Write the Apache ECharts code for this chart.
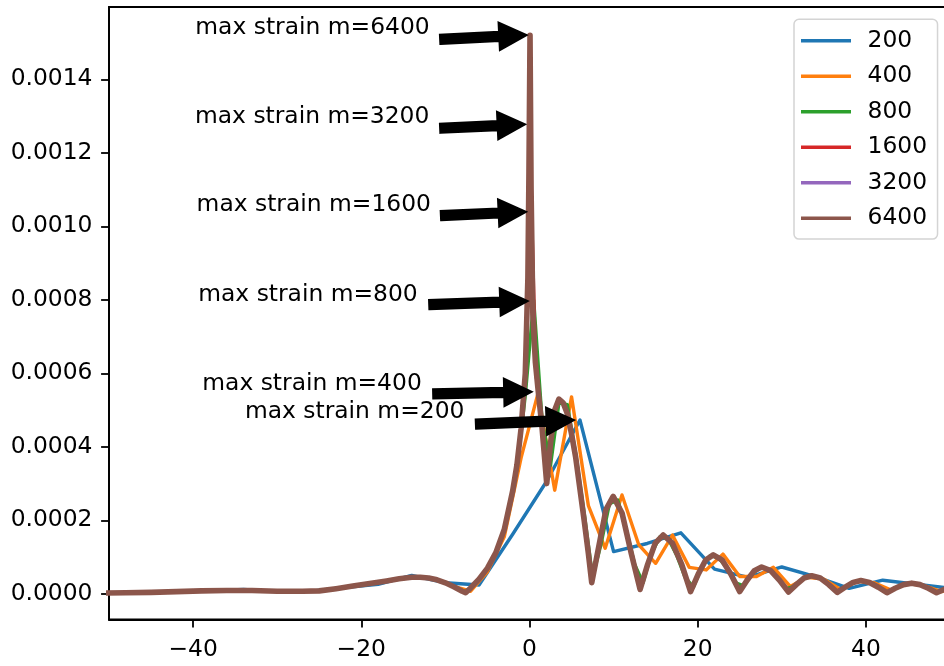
<!DOCTYPE html>
<html><head><meta charset="utf-8">
<script src="https://cdn.jsdelivr.net/npm/echarts@6/dist/echarts.min.js"></script>
<style>html,body{margin:0;padding:0;background:#fff}#c{width:944px;height:666px}</style>
</head><body><div id="c"></div>
<script>
// values are in units of 1e-4 (strain)
const SCALE = 1e-4;
const seriesNames = ['200', '400', '800', '1600', '3200', '6400'];
const seriesColors = ['#1f77b4', '#ff7f0e', '#2ca02c', '#d62728', '#9467bd', '#8c564b'];
const xTicks = [-40, -20, 0, 20, 40];
const yTicks = [0, 0.0002, 0.0004, 0.0006, 0.0008, 0.0010, 0.0012, 0.0014];

const s200 = [[-50,0.02],[-46,0.03],[-42,0.06],[-38,0.08],[-34,0.12],[-30,0.06],[-26,0.07],[-22,0.17],[-18,0.26],[-14,0.5],[-10,0.3],[-6,0.24],[-2,1.62],[2,3.05],[6,4.73],[10,1.15],[14,1.37],[18,1.66],[22,0.67],[26,0.45],[30,0.73],[34,0.47],[38,0.15],[42,0.37],[46,0.26],[50,0.15]];

const s400 = [[-51,0.02],[-49,0.02],[-47,0.03],[-45,0.04],[-43,0.05],[-41,0.07],[-39,0.08],[-37,0.09],[-35,0.09],[-33,0.09],[-31,0.08],[-29,0.07],[-27,0.07],[-25,0.08],[-23,0.14],[-21,0.21],[-19,0.28],[-17,0.35],[-15,0.42],[-13,0.46],[-11,0.38],[-9,0.2],[-7,0.07],[-5,0.6],[-3,1.55],[-1,3.7],[1,5.45],[3,2.82],[5,5.36],[7,2.4],[9,1.24],[11,2.69],[13,1.33],[15,0.83],[17,1.6],[19,0.72],[21,0.65],[23,1.08],[25,0.47],[27,0.47],[29,0.72],[31,0.2],[33,0.45],[35,0.4],[37,0.12],[39,0.34],[41,0.3],[43,0.1],[45,0.28],[47,0.22],[49,0.06],[51,0.2]];

const s800 = [[-50.5,0.02],[-45.5,0.04],[-40.5,0.07],[-35.5,0.09],[-30.5,0.07],[-25.5,0.08],[-22.5,0.16],[-20.5,0.23],[-18.5,0.3],[-16.5,0.37],[-14.5,0.43],[-13.5,0.45],[-12.5,0.44],[-11.5,0.41],[-10.5,0.34],[-9.5,0.25],[-8.5,0.13],[-7.5,0.05],[-6.5,0.26],[-5.5,0.55],[-4.5,0.88],[-3.5,1.4],[-2.5,2.2],[-1.5,3.4],[-0.5,5.4],[0.5,7.99],[1.5,4.7],[2.5,3.5],[3.5,5.2],[4.5,5.15],[5.5,3.8],[6.5,2.2],[7.5,0.45],[8.5,1.35],[9.5,2.45],[10.5,2.55],[11.5,1.75],[12.5,0.8],[13.5,0.3],[14.5,1.1],[15.5,1.55],[16.5,1.5],[17.5,1.05],[18.5,0.45],[19.5,0.18],[20.5,0.75],[21.5,1.04],[22.5,0.98],[23.5,0.7],[24.5,0.3],[25.5,0.22],[26.5,0.55],[27.5,0.72],[28.5,0.66],[29.5,0.45],[30.5,0.14],[31.5,0.2],[32.5,0.42],[33.5,0.49],[34.5,0.44],[35.5,0.28],[36.5,0.06],[37.5,0.17],[38.5,0.31],[39.5,0.36],[40.5,0.31],[41.5,0.19],[42.5,0.04],[43.5,0.15],[44.5,0.25],[45.5,0.29],[46.5,0.25],[47.5,0.15],[48.5,0.04],[49.5,0.13],[50.5,0.2]];

// fine-resolution runs (1600, 3200, 6400) coincide away from the spike
const fineLeft = [[-50.5,0.02],[-48,0.03],[-45,0.04],[-42,0.06],[-39,0.08],[-36,0.09],[-33,0.09],[-30,0.07],[-27,0.07],[-25,0.08],[-23,0.14],[-21,0.21],[-19,0.28],[-17,0.35],[-15.5,0.41],[-14,0.45],[-13,0.45],[-12,0.43],[-11,0.38],[-10,0.3],[-9,0.19],[-8,0.07],[-7.6,0.03],[-7,0.16],[-6,0.4],[-5,0.7],[-4,1.12],[-3,1.75],[-2,2.8],[-1.5,3.5],[-1,4.5],[-0.5,6.0]];
const fineRight = [[1,5.6],[1.5,4.5],[2.05,3.0],[2.5,4.1],[3,5.0],[3.5,5.3],[4,5.2],[4.5,4.9],[5,4.35],[5.5,3.7],[6,2.85],[6.5,2.0],[7,1.1],[7.4,0.3],[8.25,1.3],[9.1,2.3],[9.95,2.65],[11,2.2],[12.1,1.1],[13.15,0.12],[14.05,0.8],[14.95,1.38],[15.9,1.6],[17,1.38],[18.1,0.8],[19.15,0.06],[20.05,0.53],[20.95,0.92],[21.85,1.06],[22.9,0.92],[23.95,0.53],[25,0.06],[25.87,0.37],[26.73,0.63],[27.6,0.73],[28.67,0.63],[29.73,0.37],[30.8,0.05],[31.72,0.25],[32.63,0.43],[33.55,0.49],[34.57,0.43],[35.58,0.25],[36.6,0.04],[37.53,0.18],[38.47,0.31],[39.4,0.36],[40.43,0.31],[41.47,0.18],[42.5,0.03],[43.48,0.15],[44.47,0.25],[45.45,0.29],[46.43,0.25],[47.42,0.15],[48.4,0.03],[49.4,0.13],[50.4,0.2]];
const peak1600 = [[-0.25,7.8],[0.25,10.4],[0.75,6.0]];
const peak3200 = [[-0.125,9.5],[0.125,12.78],[0.375,8.3],[0.7,6.3]];
const peak6400 = [[-0.19,8.6],[-0.0625,11.5],[0.0625,15.2],[0.1875,11.0],[0.4,7.6],[0.7,6.3]];

// annotations
const annoLabels = ['max strain m=6400','max strain m=3200','max strain m=1600','max strain m=800','max strain m=400','max strain m=200'];
const annoText = [[-25.80,15.39],[-25.84,12.99],[-25.65,10.58],[-26.34,8.13],[-25.86,5.71],[-20.79,4.96]];
const annoTail = [[-10.73,15.09],[-10.73,12.67],[-10.64,10.29],[-12.03,7.87],[-11.56,5.44],[-6.48,4.62]];
const annoTip = [[-0.14,15.21],[-0.33,12.78],[-0.21,10.40],[-0.02,7.97],[0.45,5.50],[5.49,4.73]];

const lineData = [
  s200, s400, s800,
  fineLeft.concat(peak1600, fineRight),
  fineLeft.concat(peak3200, fineRight),
  fineLeft.concat(peak6400, fineRight)
];
const lineWidths = [3.4, 3.4, 3.4, 3.4, 3.4, 5.6];
const FONT = 'DejaVu Sans';
const FS = 23.4;

const chart = echarts.init(document.getElementById('c'), null, {renderer: 'canvas'});
const series = lineData.map((d, i) => ({
  name: seriesNames[i], type: 'line', data: d.map(p => [p[0], p[1] * SCALE]),
  showSymbol: false, symbol: 'none', smooth: false, animation: false, silent: true,
  color: seriesColors[i],
  lineStyle: {color: seriesColors[i], width: lineWidths[i], join: 'round', cap: 'butt'},
  emphasis: {disabled: true}, z: 2 + i
}));
series.push({
  name: 'annotations', type: 'custom', coordinateSystem: 'cartesian2d', clip: false, silent: true,
  animation: false, z: 20,
  data: annoTip.map(p => [p[0], p[1] * SCALE]),
  renderItem: function (params, api) {
    const i = params.dataIndex;
    const t = api.coord([annoText[i][0], annoText[i][1] * SCALE]);
    const a = api.coord([annoTail[i][0], annoTail[i][1] * SCALE]);
    const b = api.coord([annoTip[i][0], annoTip[i][1] * SCALE]);
    let dx = b[0] - a[0], dy = b[1] - a[1];
    const L = Math.hypot(dx, dy); dx /= L; dy /= L;
    const nx = -dy, ny = dx;
    const tip = [b[0] - dx * 2, b[1] - dy * 2];
    const tail = [a[0] + dx * 1, a[1] + dy * 1];
    const hl = 27, hw = 13.5, sw = 4.5;
    const base = [tip[0] - dx * hl, tip[1] - dy * hl];
    const pts = [
      [tail[0] + nx * sw, tail[1] + ny * sw], [base[0] + nx * sw, base[1] + ny * sw],
      [base[0] + nx * hw, base[1] + ny * hw], tip,
      [base[0] - nx * hw, base[1] - ny * hw], [base[0] - nx * sw, base[1] - ny * sw],
      [tail[0] - nx * sw, tail[1] - ny * sw]
    ];
    return {type: 'group', children: [
      {type: 'polygon', shape: {points: pts}, style: {fill: '#000', stroke: '#000', lineWidth: 2.25, lineJoin: 'miter'}},
      {type: 'text', style: {text: annoLabels[i], x: t[0], y: t[1], align: 'center', verticalAlign: 'middle',
        fontSize: FS, fontFamily: FONT, fill: '#000'}}
    ]};
  }
});

chart.setOption({
  animation: false,
  backgroundColor: '#fff',
  grid: {left: 109, right: -6, top: 7, bottom: 46.5, containLabel: false, outerBoundsMode: 'none',
    show: true, borderColor: '#000', borderWidth: 1.8, backgroundColor: 'rgba(0,0,0,0)'},
  xAxis: {
    type: 'value', min: -50, max: 50,
    axisLine: {show: true, onZero: false, lineStyle: {color: '#000', width: 1.8}},
    axisTick: {show: true, length: 7.9, customValues: xTicks, lineStyle: {color: '#000', width: 1.8}},
    axisLabel: {customValues: xTicks, margin: 19, color: '#000', fontSize: FS, fontFamily: FONT,
      formatter: v => v < 0 ? '\u2212' + Math.abs(v) : String(v)},
    splitLine: {show: false}
  },
  yAxis: {
    type: 'value', min: -0.0000699, max: 0.001597,
    axisLine: {show: true, onZero: false, lineStyle: {color: '#000', width: 1.8}},
    axisTick: {show: true, length: 7.9, customValues: yTicks, lineStyle: {color: '#000', width: 1.8}},
    axisLabel: {customValues: yTicks, margin: 16.5, color: '#000', fontSize: FS, fontFamily: FONT,
      formatter: v => v.toFixed(4)},
    splitLine: {show: false}
  },
  legend: {
    data: seriesNames, orient: 'vertical', left: 794, top: 19.3,
    padding: [9.5, 10.5, 8.8, 7], itemWidth: 50, itemHeight: 3.4, itemGap: 11.5, icon: 'rect',
    backgroundColor: '#fff', borderColor: '#d4d4d4', borderWidth: 1.5, borderRadius: 5,
    textStyle: {color: '#000', fontSize: FS, fontFamily: FONT, lineHeight: 24, padding: [0, 0, 0, 11.5]},
    selectedMode: false
  },
  series: series
});
</script>
</body></html>
